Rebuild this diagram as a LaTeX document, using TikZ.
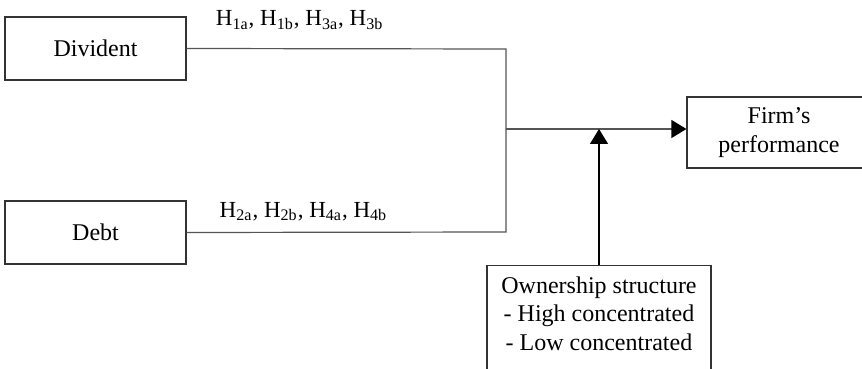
\documentclass[tikz,border=0pt]{standalone}
\usepackage{fontspec}
\setmainfont{Liberation Serif}
\usetikzlibrary{arrows.meta,positioning,calc}
\definecolor{lineblack}{HTML}{333333}
\definecolor{linegray}{HTML}{555555}

\begin{document}
\begin{tikzpicture}[x=0.5pt, y=-0.5pt,
    every node/.style={font=\fontsize{12}{14.2}\selectfont},
    varbox/.style={draw=lineblack, line width=0.6pt, minimum width=90.5pt,
      minimum height=31.5pt, inner sep=2pt, align=center},
    link/.style={draw=linegray, line width=0.6pt},
    arrowlink/.style={link, -{Triangle[length=7.5pt, width=9pt, color=black]}},
    hyplabel/.style={anchor=base, inner sep=0pt,
      font=\fontsize{11.5}{13}\selectfont}]

  % ---- Frame ----
  \useasboundingbox (0,0) rectangle (862,369);
  \clip (0,0) rectangle (862,369);

  % ---- Boxes ----
  \node[varbox] (div) at (95.5,48.5) {Divident};
  \node[varbox] (debt) at (95.5,232.5) {Debt};
  \node[varbox, minimum width=92pt, minimum height=35.5pt] (firm)
    at (779,132.5) {Firm's\\performance};
  \node[varbox, anchor=north, minimum width=112pt, inner ysep=5.5pt,
    text depth=40pt] (own) at (599,265)
    {Ownership structure\\- High concentrated\\- Low concentrated};

  % ---- Junction points ----
  \coordinate (jtop) at (506,49);
  \coordinate (jbot) at (506,232);
  \coordinate (jmid) at (506,129);
  \coordinate (mod) at (599,129);

  % ---- Connectors ----
  \draw[link] (div.east) -- (jtop) -- (jbot) -- (debt.east);
  \draw[arrowlink] (jmid) -- (firm.west |- jmid);
  \draw[arrowlink, draw=black] (own.north) -- (mod);

  % ---- Hypothesis labels ----
  \node[hyplabel, yshift=11.5pt] (hyptop) at ($(div.east)!0.354!(jtop)$)
    {H\textsubscript{1a}, H\textsubscript{1b}, H\textsubscript{3a}, H\textsubscript{3b}};
  \node[hyplabel, yshift=7.5pt] (hypbot) at ($(debt.east)!0.366!(jbot)$)
    {H\textsubscript{2a}, H\textsubscript{2b}, H\textsubscript{4a}, H\textsubscript{4b}};

\end{tikzpicture}
\end{document}
